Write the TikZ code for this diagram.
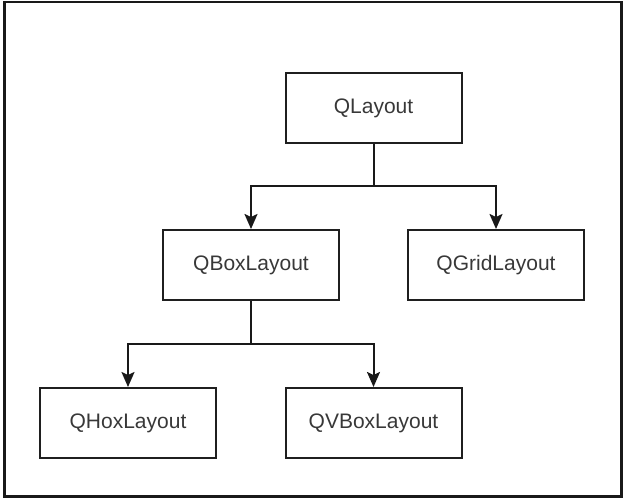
\documentclass[tikz,border=0pt]{standalone}
\usepackage{fontspec}
\setmainfont{Liberation Sans}
\usetikzlibrary{arrows.meta}
\begin{document}
\begin{tikzpicture}[x=1pt,y=-1pt,
  classbox/.style={draw=black!88, line width=2pt, minimum width=176pt, minimum height=70pt,
    inner sep=0pt, font=\fontsize{21}{24}\selectfont, text=black!78},
  link/.style={draw=black!90, line width=2pt},
  arr/.style={link, -{Stealth[length=15pt,width=13pt,inset=3pt]}}]
\useasboundingbox (0,0) rectangle (628,502);
\draw[line width=2.5pt, draw=black!90] (4.5,2) rectangle (621.5,496.5);
\node[classbox] (ql) at (373.5,108) {QLayout};
\node[classbox] (qbox) at (251,265) {QBoxLayout};
\node[classbox] (qgrid) at (496,265) {QGridLayout};
\node[classbox] (qhox) at (128,423) {QHoxLayout};
\node[classbox] (qvbox) at (373.5,423) {QVBoxLayout};
\coordinate (j1) at (373.5,186.5);
\coordinate (j2) at (251,344);
\draw[link] (ql.south) -- (j1);
\draw[arr] (j1) -| (qbox.north);
\draw[arr] (j1) -| (qgrid.north);
\draw[link] (qbox.south) -- (j2);
\draw[arr] (j2) -| (qhox.north);
\draw[arr] (j2) -| (qvbox.north);
\end{tikzpicture}
\end{document}
